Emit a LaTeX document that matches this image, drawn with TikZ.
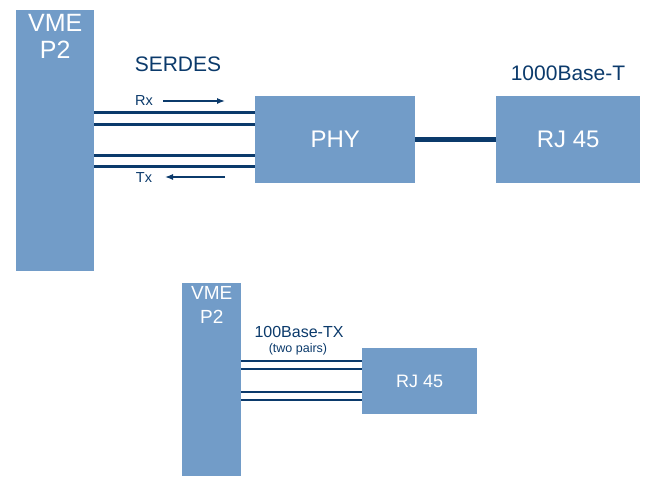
\documentclass[tikz,border=0pt]{standalone}
\usepackage{fontspec}
\setmainfont{Liberation Sans}
\usetikzlibrary{arrows.meta}
\definecolor{boxblue}{HTML}{729CC8}
\definecolor{navy}{HTML}{0B3A6B}
\begin{document}
\begin{tikzpicture}[x=1pt, y=-1pt,
        box/.style={fill=boxblue, draw=none, text=white, inner sep=0pt, anchor=north west},
        boxtext/.style={text=white, inner sep=0pt, align=center},
        pair/.style={navy, line width=3pt},
        lbl/.style={text=navy, inner sep=0pt},
        dirarrow/.style={navy, line width=1.3pt, -{Latex[length=8pt,width=6pt]}}]
    \useasboundingbox (0,0) rectangle (648,478);
    % upper card: SERDES to PHY to RJ 45
    \node[box, minimum width=78, minimum height=261] (vme) at (16,10) {};
    \node[boxtext, anchor=north, font=\fontsize{25}{27}\selectfont] (vmetxt) at ([yshift=-4pt]vme.north) {VME\\P2};
    \node[box, minimum width=160, minimum height=87, font=\fontsize{24}{26}\selectfont] (phy) at (255,96) {PHY};
    \node[box, minimum width=144, minimum height=87, font=\fontsize{24}{26}\selectfont] (rj) at (496,96) {RJ 45};
    \node[lbl, font=\fontsize{21}{23}\selectfont] (serdes) at (178,64) {SERDES};
    \node[lbl, font=\fontsize{21}{23}\selectfont] (gbit) at (568,73) {1000Base-T};
    \foreach \y in {113,125,156,167}
        \draw[pair] (vme.east |- 0,\y) -- (phy.west |- 0,\y);
    \draw[navy, line width=5pt] (phy.east) -- (rj.west);
    \node[lbl, font=\fontsize{14.5}{16}\selectfont] (rx) at (144,101) {Rx};
    \node[lbl, font=\fontsize{14.5}{16}\selectfont] (tx) at (144,178) {Tx};
    \coordinate (rxstart) at (163,101);
    \coordinate (rxend) at (225,101);
    \coordinate (txstart) at (225,177);
    \coordinate (txend) at (165,177);
    \draw[dirarrow] (rxstart) -- (rxend);
    \draw[dirarrow] (txstart) -- (txend);
    % lower card: two pairs straight to RJ 45
    \node[box, minimum width=59, minimum height=193] (vmeb) at (182,283) {};
    \node[boxtext, anchor=north, font=\fontsize{19}{24}\selectfont] (vmebtxt) at ([yshift=-3pt]vmeb.north) {VME\\P2};
    \node[box, minimum width=115, minimum height=66, font=\fontsize{18}{20}\selectfont] (rjb) at (362,348) {RJ 45};
    \node[lbl, font=\fontsize{16}{18}\selectfont] (fast) at (299,332) {100Base-TX};
    \node[lbl, font=\fontsize{12.5}{14}\selectfont] (pairs) at (298,349) {(two pairs)};
    \foreach \y in {361,369,392,400}
        \draw[navy, line width=2.6pt] (vmeb.east |- 0,\y) -- (rjb.west |- 0,\y);
\end{tikzpicture}
\end{document}
